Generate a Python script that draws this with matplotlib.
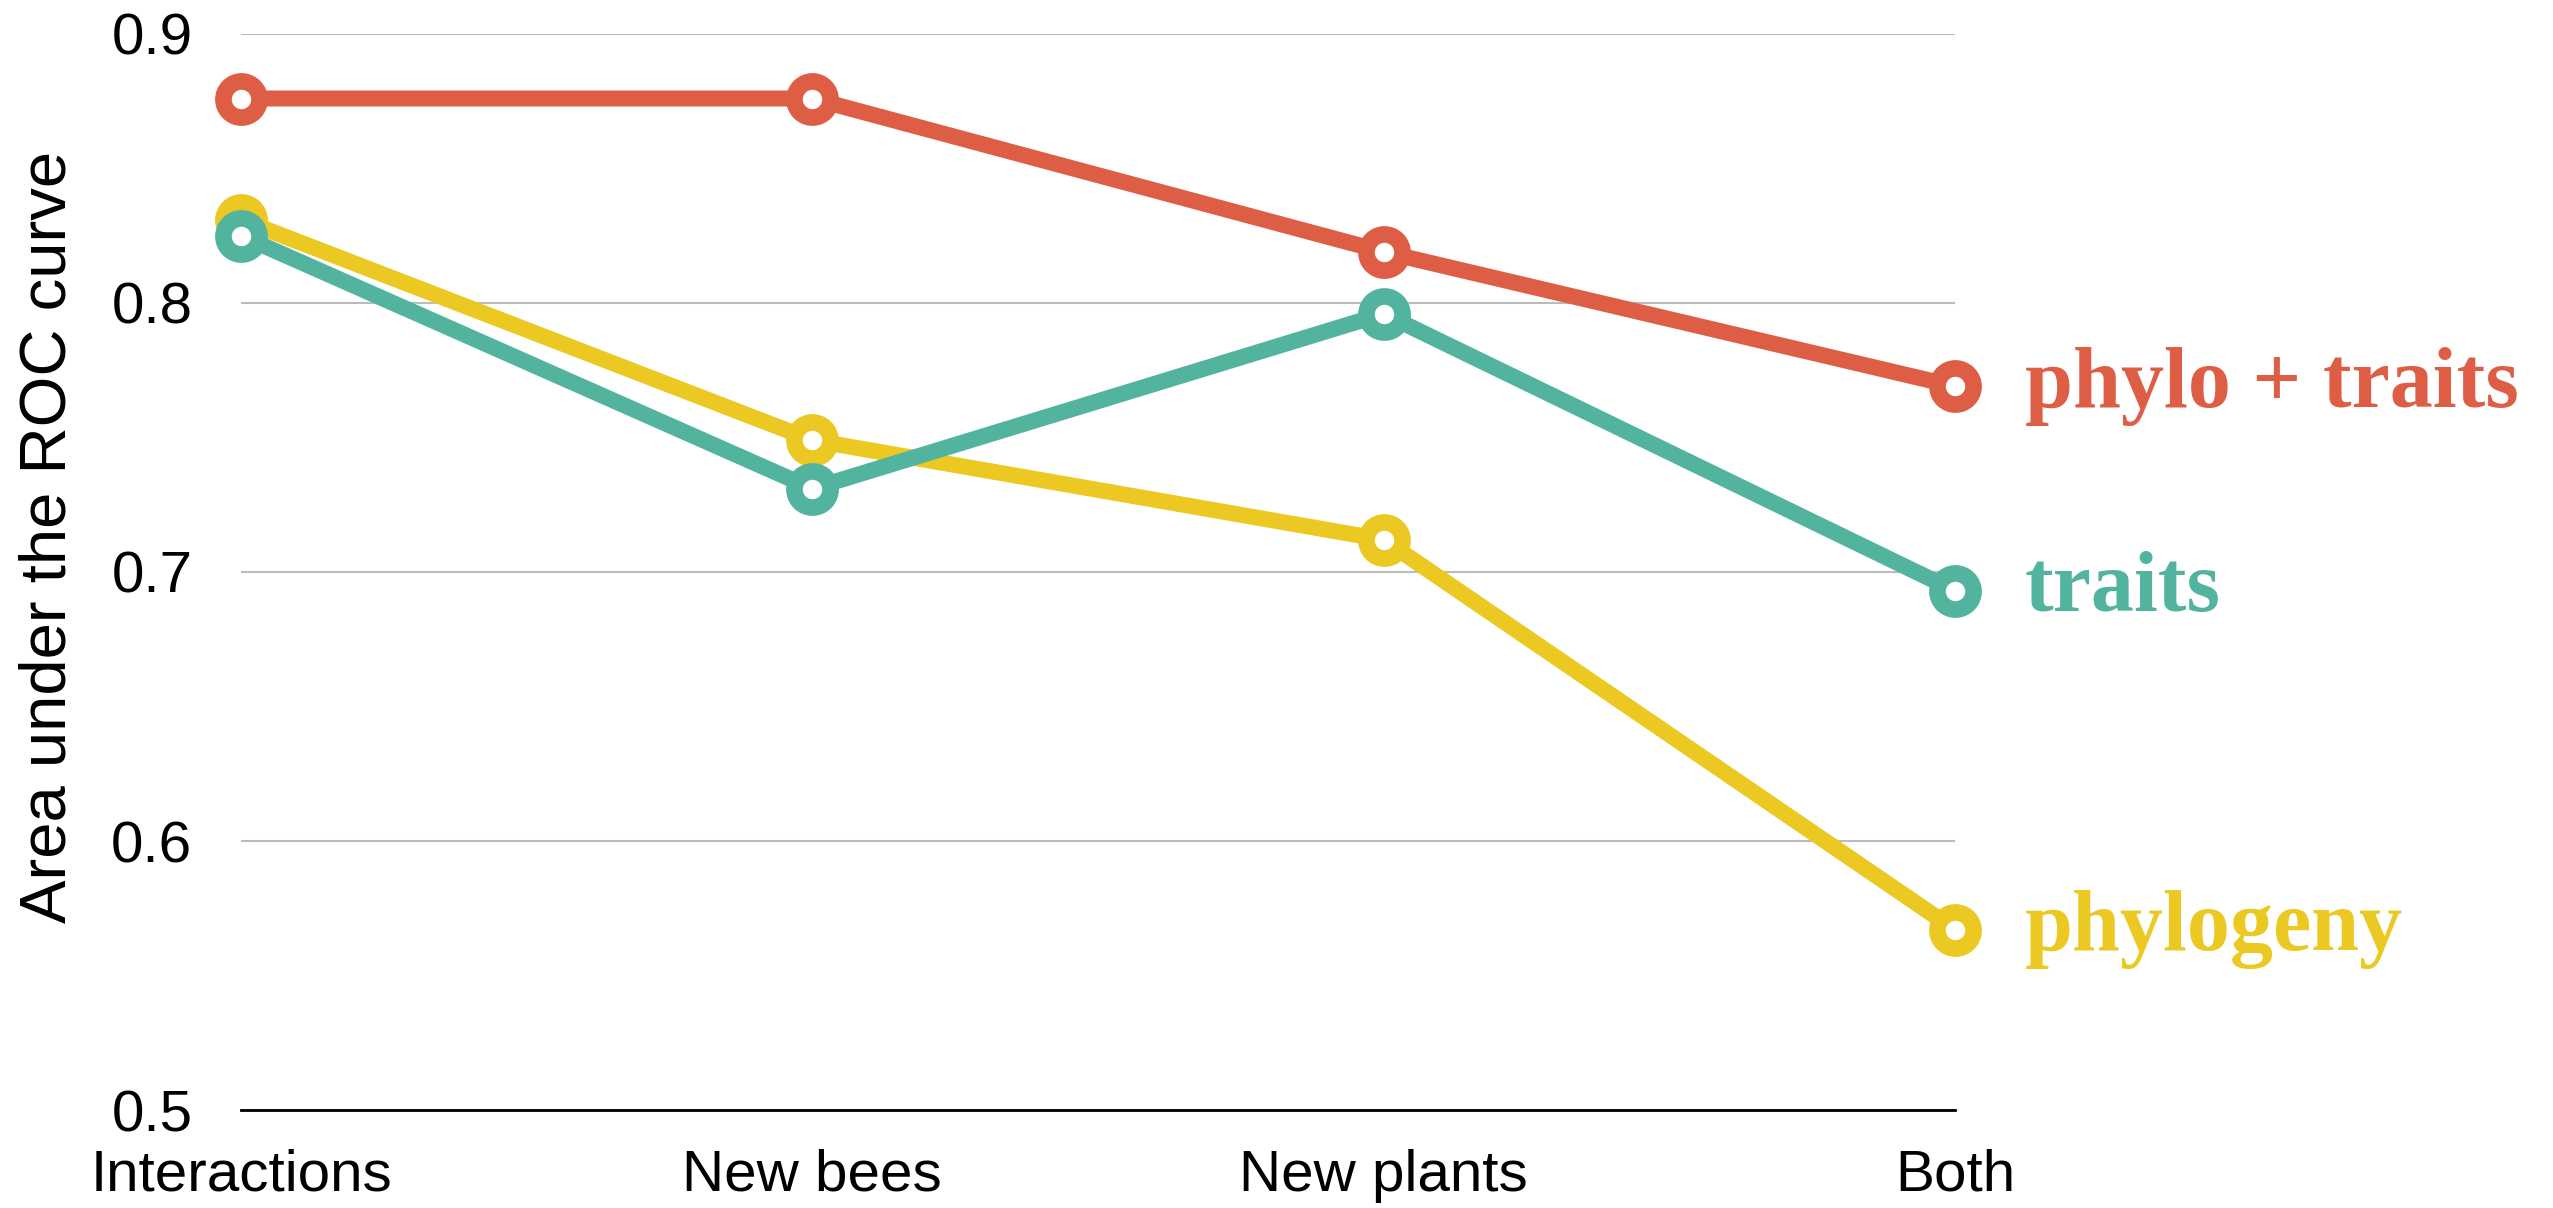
import matplotlib
matplotlib.use("Agg")
import matplotlib.pyplot as plt

# AUC of each model on the four held-out prediction tasks
tasks = ["Interactions", "New bees", "New plants", "Both"]
phylogeny = [0.831, 0.749, 0.712, 0.567]
traits = [0.825, 0.731, 0.796, 0.693]
phylo_traits = [0.876, 0.876, 0.819, 0.769]

series_names = ["phylogeny", "traits", "phylo + traits"]
series_colors = ["#EBC922", "#52B49F", "#DE5D45"]

plt.rcParams['font.family'] = ['Liberation Sans', 'DejaVu Sans']

fig = plt.figure(figsize=(25.53, 12.08), dpi=100)
ax = fig.add_axes([0.0944, 0.0811, 0.6714, 0.8908])

x = list(range(len(tasks)))
for vals, name, col in zip([phylogeny, traits, phylo_traits], series_names, series_colors):
    ax.plot(x, vals, color=col, lw=11.5, marker="o", ms=26, mew=12,
            mec=col, mfc="white", clip_on=False, solid_capstyle="round", zorder=3)
    ax.annotate(name, xy=(x[-1], vals[-1]), xytext=(70, 0), textcoords="offset pixels",
                ha="left", va="center", color=col, fontsize=62, fontweight="bold",
                family=["Liberation Serif", "DejaVu Serif"], annotation_clip=False)

ax.set_xlim(0, 3)
ax.set_ylim(0.5, 0.9)
ax.set_yticks([0.5, 0.6, 0.7, 0.8, 0.9])
ax.set_yticklabels(["0.5", "0.6", "0.7", "0.8", "0.9"])
ax.set_xticks(x)
ax.set_xticklabels(tasks)
ax.tick_params(axis="both", length=0, labelsize=42)
ax.tick_params(axis="y", pad=35)
ax.tick_params(axis="x", pad=28)

ax.yaxis.grid(True, color="#bbbbbb", lw=1.5)
ax.set_axisbelow(True)
for s in ["top", "right", "left"]:
    ax.spines[s].set_visible(False)
ax.spines["bottom"].set_color("black")
ax.spines["bottom"].set_linewidth(2)

ax.set_ylabel("Area under the ROC curve", fontsize=47)
ax.yaxis.set_label_coords(-0.095, 0.533)

fig.savefig("out.png", dpi=100)
